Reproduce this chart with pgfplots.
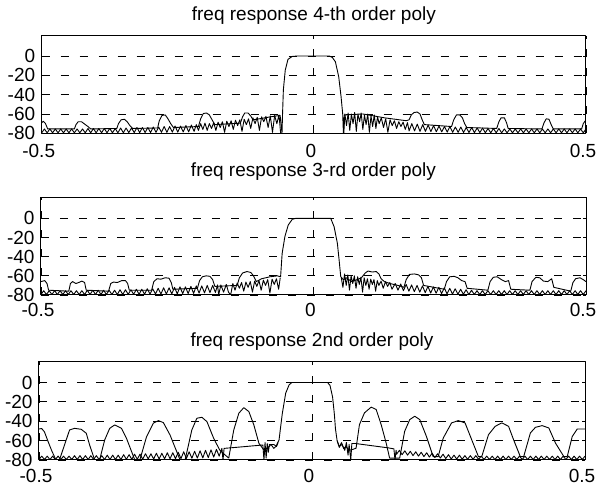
\documentclass[border=0pt]{standalone}
\usepackage{fontspec}
\setmainfont{Liberation Sans}
\usepackage{pgfplots}
\pgfplotsset{compat=1.18}
\pgfplotsset{
  panel/.style={
    scale only axis, anchor=south west,
    xmin=-0.5, xmax=0.5, ymin=-80,
    xtick={-0.5,0,0.5}, xticklabels={-0.5,0,0.5},
    ytick={-80,-60,-40,-20,0},
    /pgf/number format/assume math mode=true,
    tick label style={font=\fontsize{19}{21}\selectfont},
    title style={font=\fontsize{19}{21}\selectfont, at={(0.5,1)}, anchor=base},
    xticklabel style={xshift=-3pt},
    yticklabel style={xshift=-3pt},
    tick align=inside, major tick length=3pt,
    axis line style={black, line width=1pt},
    every tick/.style={black, line width=0.8pt},
    xmajorgrids, ymajorgrids,
    major grid style={black, line width=0.9pt, dash pattern=on 8pt off 11pt},
    line join=round,
  },
  crv/.style={black, line width=0.9pt, line join=round},
}
\begin{document}
\begin{tikzpicture}
\path[use as bounding box] (0,0) rectangle (598pt,-489pt);

% ---------------- panel 1 ----------------
\begin{axis}[panel, at={(41.7pt,-133.3pt)}, width=544.3pt, height=97.6pt, ymax=21,
  title={freq response 4-th order poly}, title style={yshift=9pt},
  xticklabel style={yshift=-7pt}]
% floor left
\addplot[crv] coordinates {
(-0.500,-79.5)(-0.495,-75.5)(-0.490,-79.5)(-0.485,-75.5)(-0.480,-79.5)(-0.475,-75.5)(-0.470,-79.5)(-0.465,-75.5)(-0.460,-79.5)(-0.455,-75.5)
(-0.450,-79.5)(-0.445,-75.5)(-0.440,-79.5)(-0.435,-75.5)(-0.430,-79.5)(-0.425,-75.5)(-0.420,-79.5)(-0.415,-75)(-0.410,-79.5)(-0.405,-75)
(-0.400,-79.5)(-0.395,-75)(-0.390,-79.5)(-0.385,-75)(-0.380,-79.5)(-0.375,-75)(-0.370,-79.5)(-0.365,-75)(-0.360,-79.5)(-0.355,-74.5)
(-0.350,-79.5)(-0.345,-74.5)(-0.340,-79.3)(-0.335,-74.5)(-0.330,-79.3)(-0.325,-74)(-0.320,-79.3)(-0.315,-74)(-0.310,-79.2)(-0.305,-74)
(-0.300,-79.2)(-0.295,-73.5)(-0.290,-79)(-0.285,-73.5)(-0.280,-79)(-0.275,-73)(-0.270,-79)(-0.265,-73)(-0.260,-78.8)(-0.255,-72.5)
(-0.250,-78.8)(-0.245,-72.5)(-0.240,-78.6)(-0.235,-72)(-0.230,-78.5)(-0.225,-71.5)
(-0.220,-78)(-0.216,-71)(-0.212,-77)(-0.208,-70)(-0.204,-76)(-0.200,-69.5)(-0.196,-77)(-0.192,-70)(-0.188,-75)(-0.184,-69)
(-0.180,-77)(-0.176,-68.5)(-0.172,-74)(-0.168,-68)(-0.164,-79)(-0.160,-67.5)(-0.156,-73)(-0.152,-67)(-0.148,-76)(-0.144,-66.5)
(-0.140,-72)(-0.136,-66)(-0.132,-78)(-0.128,-65.5)(-0.124,-71)(-0.120,-65)(-0.116,-75)(-0.112,-64)(-0.108,-70)(-0.104,-63.5)
(-0.100,-77)(-0.096,-63)(-0.092,-68)(-0.088,-62.5)(-0.084,-74)(-0.080,-62)(-0.076,-79)(-0.072,-61.5)(-0.068,-70)(-0.064,-61)(-0.061,-80)
};
% floor right
\addplot[crv] coordinates {
(0.055,-80)(0.057,-60)(0.060,-72)(0.063,-59)(0.066,-77)(0.069,-60)(0.072,-70)(0.075,-58.5)(0.078,-78)(0.081,-60)
(0.084,-68)(0.087,-59)(0.090,-76)(0.093,-61)(0.096,-71)(0.099,-60)(0.102,-79)(0.105,-62)(0.108,-73)(0.111,-61)
(0.114,-75)(0.117,-63)(0.120,-70)(0.124,-64)(0.128,-74)(0.132,-65)(0.136,-79)(0.140,-66)(0.144,-72)(0.148,-67)
(0.152,-75)(0.156,-68)(0.160,-73)(0.164,-68.5)(0.168,-76)(0.172,-69)
(0.175,-77.5)(0.180,-70)(0.185,-77.5)(0.190,-70.5)(0.195,-78)(0.200,-71)(0.205,-78)(0.210,-71.5)(0.215,-78.2)(0.220,-72)
(0.225,-78.4)(0.230,-72.5)(0.235,-78.6)(0.240,-73)(0.245,-78.8)(0.250,-73)(0.255,-79)(0.260,-73.5)(0.265,-79)(0.270,-73.5)
(0.275,-79.2)(0.280,-74)(0.285,-79.2)(0.290,-74)(0.295,-79.3)(0.300,-74.5)(0.305,-79.3)(0.310,-74.5)(0.315,-79.5)(0.320,-75)
(0.325,-79.5)(0.330,-75)(0.335,-79.5)(0.340,-75)(0.345,-79.5)(0.350,-75.5)(0.355,-79.5)(0.360,-75.5)(0.365,-79.5)(0.370,-75.5)
(0.375,-79.5)(0.380,-75.5)(0.385,-79.5)(0.390,-75.5)(0.395,-79.5)(0.400,-75.5)(0.405,-79.5)(0.410,-75.5)(0.415,-79.5)(0.420,-75.5)
(0.425,-79.5)(0.430,-75.5)(0.435,-79.5)(0.440,-75.5)(0.445,-79.5)(0.450,-75.5)(0.455,-79.5)(0.460,-75.5)(0.465,-79.5)(0.470,-75.5)
(0.475,-79.5)(0.480,-75.5)(0.485,-79.5)(0.490,-75.5)(0.495,-79.5)(0.500,-75.5)
};
% main response
\addplot[crv] coordinates {
(-0.5,-69)(-0.497,-67.5)(-0.493,-70)(-0.489,-75.5)(-0.44,-75.5)(-0.437,-71)(-0.433,-68)(-0.427,-68)(-0.421,-70.5)(-0.415,-73)(-0.41,-75.5)
(-0.362,-75)(-0.359,-70)(-0.354,-66)(-0.348,-65.5)(-0.343,-68)(-0.338,-72)(-0.333,-75)
(-0.287,-74.5)(-0.284,-67)(-0.279,-61.5)(-0.273,-61)(-0.268,-65)(-0.263,-70)(-0.258,-74)
(-0.212,-73)(-0.208,-65)(-0.203,-59.5)(-0.197,-59)(-0.192,-61)(-0.187,-66)(-0.182,-71)
(-0.135,-69.5)(-0.131,-63)(-0.127,-59)(-0.121,-59)(-0.116,-62)(-0.112,-66)(-0.1,-65)(-0.08,-63)(-0.062,-61.5)
(-0.0585,-80)(-0.0575,-60)(-0.056,-35)(-0.0525,-14.5)(-0.0475,-3.5)(-0.04,-0.5)(-0.03,0)
(0.0285,0)(0.034,-1.5)(0.0396,-6)(0.0457,-21.5)(0.05,-42)(0.053,-60)(0.0543,-80)(0.056,-61)(0.09,-60)(0.13,-64)(0.17,-67)
(0.175,-66)(0.179,-61)(0.184,-58.5)(0.19,-58)(0.195,-60)(0.199,-66)(0.203,-71)
(0.253,-73)(0.257,-66)(0.262,-61)(0.268,-61)(0.273,-64)(0.277,-70)(0.281,-74)
(0.336,-75)(0.34,-68)(0.344,-64)(0.35,-64)(0.354,-69)(0.357,-75)
(0.419,-75.5)(0.423,-69)(0.427,-65)(0.432,-65.5)(0.436,-71)(0.44,-75.5)
(0.492,-75.5)(0.495,-70)(0.5,-66)
};
\end{axis}

% ---------------- panel 2 ----------------
\begin{axis}[panel, at={(41pt,-295pt)}, width=545pt, height=97.7pt, ymax=22,
  title={freq response 3-rd order poly}, title style={yshift=15pt},
  xticklabel style={yshift=-5pt}]
\addplot[crv] coordinates {
(-0.500,-79.5)(-0.495,-75.5)(-0.490,-79.5)(-0.485,-75.5)(-0.480,-79.5)(-0.475,-75.5)(-0.470,-79.5)(-0.465,-75.5)(-0.460,-79.5)(-0.455,-75.5)
(-0.450,-79.5)(-0.445,-75.5)(-0.440,-79.5)(-0.435,-75.5)(-0.430,-79.5)(-0.425,-75.5)(-0.420,-79.5)(-0.415,-75)(-0.410,-79.5)(-0.405,-75)
(-0.400,-79.5)(-0.395,-75)(-0.390,-79.5)(-0.385,-75)(-0.380,-79.5)(-0.375,-75)(-0.370,-79.5)(-0.365,-75)(-0.360,-79.5)(-0.355,-74.5)
(-0.350,-79.5)(-0.345,-74.5)(-0.340,-79.3)(-0.335,-74.5)(-0.330,-79.3)(-0.325,-74)(-0.320,-79.3)(-0.315,-74)(-0.310,-79.2)(-0.305,-73.5)
(-0.300,-79.2)(-0.295,-73.5)(-0.290,-79)(-0.285,-73)(-0.280,-79)(-0.275,-72.5)(-0.270,-79)(-0.265,-72.5)(-0.260,-78.8)(-0.255,-72)
(-0.250,-78.8)(-0.245,-71.5)(-0.240,-78.6)(-0.235,-71.5)(-0.230,-78.5)(-0.225,-71)(-0.220,-78.3)(-0.215,-70.5)(-0.210,-78)(-0.205,-70.5)
(-0.200,-77.8)(-0.195,-70)(-0.190,-77.5)(-0.185,-70)(-0.180,-77.3)(-0.176,-69.5)(-0.174,-80)(-0.170,-69.5)(-0.165,-77)
(-0.160,-69)(-0.156,-77)(-0.152,-80)(-0.148,-68)(-0.144,-75)(-0.140,-67.5)(-0.136,-73)(-0.132,-67)(-0.128,-76)(-0.124,-66.5)
(-0.120,-72)(-0.116,-66)(-0.112,-77)(-0.108,-65.5)(-0.104,-71)(-0.100,-65)(-0.096,-75)(-0.092,-64.5)(-0.088,-70)(-0.084,-64)
(-0.080,-78)(-0.076,-63.5)(-0.072,-69)(-0.068,-63)(-0.064,-74)(-0.061,-62)
};
\addplot[crv] coordinates {
(0.051,-62)(0.054,-72)(0.057,-58)(0.060,-70)(0.063,-59)(0.066,-75)(0.069,-60)(0.072,-68)(0.075,-60)(0.078,-73)
(0.081,-61)(0.084,-69)(0.087,-61.5)(0.090,-77)(0.093,-62)(0.096,-70)(0.099,-63)(0.102,-74)(0.105,-63.5)(0.108,-69)
(0.111,-64)(0.114,-76)(0.117,-65)(0.120,-70)(0.124,-65.5)(0.128,-73)(0.132,-66)(0.136,-71)(0.140,-67)(0.144,-74)
(0.150,-68)(0.155,-75)(0.160,-68.5)(0.165,-75.5)(0.170,-69)(0.175,-76)(0.180,-69.5)(0.185,-76.5)(0.190,-70)(0.195,-77)
(0.200,-70.5)(0.205,-77.5)(0.210,-71)(0.215,-78)(0.220,-71.5)(0.225,-78.2)(0.230,-72)(0.235,-78.5)(0.240,-72.5)(0.245,-78.8)
(0.250,-73)(0.255,-79)(0.260,-73.5)(0.265,-79.2)(0.270,-74)(0.275,-79.3)(0.280,-74.5)(0.285,-79.5)(0.290,-75)(0.295,-79.5)
(0.300,-75.5)(0.305,-79.5)(0.310,-75.5)(0.315,-79.5)(0.320,-75.5)(0.325,-79.5)(0.330,-75.5)(0.335,-79.5)(0.340,-75.5)(0.345,-79.5)
(0.350,-75.5)(0.355,-79.5)(0.360,-75.5)(0.365,-79.5)(0.370,-75.5)(0.375,-79.5)(0.380,-75.5)(0.385,-79.5)(0.390,-75.5)(0.395,-79.5)
(0.400,-75.5)(0.405,-79.5)(0.410,-75.5)(0.415,-79.5)(0.420,-75.5)(0.425,-79.5)(0.430,-75.5)(0.435,-79.5)(0.440,-75.5)(0.445,-79.5)
(0.450,-75.5)(0.455,-79.5)(0.460,-75.5)(0.465,-79.5)(0.470,-75.5)(0.475,-79.5)(0.480,-75.5)(0.485,-79.5)(0.490,-75.5)(0.495,-79.5)(0.500,-75.5)
};
\addplot[crv] coordinates {
(-0.5,-66)(-0.493,-65)(-0.489,-68)(-0.486,-75)
(-0.449,-76)(-0.446,-68)(-0.442,-66)(-0.436,-68)(-0.431,-67)(-0.425,-65.5)(-0.42,-67)(-0.417,-75)
(-0.376,-76)(-0.372,-68)(-0.367,-66.5)(-0.36,-67)(-0.352,-65)(-0.345,-65)(-0.341,-68)(-0.338,-75)
(-0.297,-75)(-0.293,-66)(-0.287,-63)(-0.28,-63.5)(-0.272,-62)(-0.265,-62.5)(-0.261,-67)(-0.258,-74)
(-0.213,-73)(-0.209,-65)(-0.204,-61)(-0.197,-60)(-0.19,-60.5)(-0.185,-64)(-0.181,-71)
(-0.14,-70)(-0.136,-62)(-0.13,-57)(-0.122,-55.5)(-0.115,-56.5)(-0.11,-60)(-0.105,-66)
(-0.095,-63)(-0.08,-61)(-0.066,-60)
(-0.0604,-61)(-0.0575,-36.5)(-0.0525,-19)(-0.0464,-7)(-0.039,-1)(-0.0328,0)
(0.0316,0)(0.0378,-8.7)(0.0438,-26)(0.047,-43.5)(0.05,-61)
(0.055,-64)(0.06,-62)(0.07,-66)(0.08,-64)(0.088,-62)
(0.095,-57)(0.1,-55)(0.108,-56)(0.115,-55.5)(0.12,-58)(0.124,-63)(0.13,-66)(0.14,-68)(0.155,-70)
(0.166,-72)(0.17,-64)(0.176,-58.5)(0.185,-58)(0.193,-59)(0.198,-62)(0.202,-70)
(0.24,-74)(0.244,-66)(0.25,-61)(0.258,-60.5)(0.265,-62)(0.272,-65)(0.278,-66)(0.282,-73)
(0.32,-75)(0.324,-66)(0.33,-61.5)(0.337,-61)(0.345,-64)(0.352,-66)(0.358,-65)(0.362,-74)
(0.397,-75)(0.401,-66)(0.408,-61.5)(0.415,-62)(0.422,-65.5)(0.43,-66)(0.437,-63)(0.441,-72)
(0.472,-76)(0.476,-67)(0.481,-63)(0.489,-62)(0.495,-64)(0.5,-66)
};
\end{axis}

% ---------------- panel 3 ----------------
\begin{axis}[panel, at={(39pt,-460pt)}, width=546pt, height=98.3pt, ymax=21.5,
  title={freq response 2nd order poly}, title style={yshift=9pt},
  xticklabel style={yshift=-5.5pt}]
\addplot[crv] coordinates {
(-0.500,-79.5)(-0.495,-76)(-0.490,-79.5)(-0.485,-76)(-0.480,-79.5)(-0.475,-76)(-0.470,-79.5)(-0.465,-76)(-0.460,-79.5)(-0.455,-76)
(-0.450,-79.5)(-0.445,-76)(-0.440,-79.5)(-0.435,-75.5)(-0.430,-79.5)(-0.425,-75.5)(-0.420,-79.5)(-0.415,-75.5)(-0.410,-79.5)(-0.405,-75.5)
(-0.400,-79.5)(-0.395,-75.5)(-0.390,-79.5)(-0.385,-75.5)(-0.380,-79.5)(-0.375,-75)(-0.370,-79.5)(-0.365,-75)(-0.360,-79.5)(-0.355,-75)
(-0.350,-79.5)(-0.345,-74.5)(-0.340,-79.3)(-0.335,-74.5)(-0.330,-79.3)(-0.325,-74)(-0.320,-79.2)(-0.315,-74)(-0.310,-79.2)(-0.305,-73.5)
(-0.300,-79)(-0.295,-73.5)(-0.290,-79)(-0.285,-73)(-0.280,-79)(-0.275,-73)(-0.270,-78.8)(-0.265,-72.5)(-0.260,-78.8)(-0.255,-72.5)
(-0.250,-78.6)(-0.245,-72)(-0.240,-78.6)(-0.235,-71.5)(-0.230,-78.4)(-0.225,-71.5)(-0.220,-78.2)(-0.215,-71)(-0.210,-78)(-0.205,-70.5)
(-0.200,-77.8)(-0.195,-70)(-0.190,-77.5)(-0.185,-69.5)(-0.180,-77)(-0.175,-69)(-0.170,-76)(-0.165,-68)
(-0.163,-80)(-0.161,-68)(-0.14,-67)(-0.12,-66)(-0.10,-65)(-0.09,-64.5)(-0.088,-80)(-0.086,-62)(-0.084,-78)(-0.082,-63)
(-0.080,-72)(-0.078,-64)(-0.07,-64)(-0.065,-66)(-0.062,-62)
};
\addplot[crv] coordinates {
(0.046,-60)(0.05,-66)(0.055,-64)(0.06,-70)(0.063,-62)(0.066,-75)(0.068,-64)(0.071,-80)(0.073,-63)(0.08,-63)
(0.10,-64.5)(0.12,-66)(0.14,-67.5)(0.150,-68.5)(0.152,-80)(0.154,-70)
(0.155,-74)(0.160,-70)(0.165,-74.5)(0.170,-70.5)(0.175,-75)(0.180,-71)(0.185,-75.5)(0.190,-71.5)(0.195,-76)(0.200,-72)
(0.205,-76.5)(0.210,-72.5)(0.215,-77)(0.220,-73)(0.225,-77.5)(0.230,-73.5)(0.235,-78)(0.240,-74)(0.245,-78.5)(0.250,-74.5)
(0.255,-79)(0.260,-75)(0.265,-79)(0.270,-75)(0.275,-79.2)(0.280,-75.5)(0.285,-79.2)(0.290,-75.5)(0.295,-79.3)(0.300,-75.5)
(0.305,-79.3)(0.310,-76)(0.315,-79.5)(0.320,-76)(0.325,-79.5)(0.330,-76)(0.335,-79.5)(0.340,-76)(0.345,-79.5)(0.350,-76)
(0.355,-79.5)(0.360,-76)(0.365,-79.5)(0.370,-76)(0.375,-79.5)(0.380,-76)(0.385,-79.5)(0.390,-76)(0.395,-79.5)(0.400,-76)
(0.405,-79.5)(0.410,-76)(0.415,-79.5)(0.420,-76)(0.425,-79.5)(0.430,-76)(0.435,-79.5)(0.440,-76)(0.445,-79.5)(0.450,-76)
(0.455,-79.5)(0.460,-76)(0.465,-79.5)(0.470,-76)(0.475,-79.5)(0.480,-76)(0.485,-79.5)(0.490,-76)(0.495,-79.5)(0.500,-76)
};
\addplot[crv] coordinates {
(-0.5,-48)(-0.495,-47.5)(-0.490,-51)(-0.484,-60)(-0.477,-70)(-0.469,-80)
(-0.4626,-80)(-0.4533,-64.5)(-0.444,-49)(-0.435,-47.3)(-0.4227,-48.3)(-0.4134,-52.4)(-0.4073,-64.5)(-0.398,-80)
(-0.389,-80)(-0.3797,-59.3)(-0.3705,-47.3)(-0.3613,-43.8)(-0.349,-47.3)(-0.3398,-57.6)(-0.3245,-80)
(-0.3153,-80)(-0.303,-55.9)(-0.2906,-42)(-0.2814,-39.3)(-0.2722,-41.4)(-0.26,-54.2)(-0.2416,-80)
(-0.2324,-80)(-0.2201,-49)(-0.2109,-36.9)(-0.2017,-35.9)(-0.1924,-40.4)(-0.1801,-57.6)(-0.169,-69.7)(-0.165,-72)(-0.1525,-78)
(-0.1433,-49)(-0.134,-31.7)(-0.1249,-25.9)(-0.1157,-30)(-0.1065,-43.8)(-0.0972,-62.8)(-0.088,-69.7)(-0.08,-67)(-0.075,-64)(-0.07,-68)(-0.066,-66)
(-0.0604,-59.3)(-0.0543,-31.7)(-0.0482,-11)(-0.042,-2.5)(-0.037,0)
(0.0285,0)(0.033,-3)(0.0377,-15)(0.041,-33)(0.043,-48)(0.046,-60)(0.05,-67)(0.054,-62)(0.058,-68)(0.062,-66)(0.068,-70)(0.075,-69)(0.0807,-67.8)
(0.0869,-43.5)(0.0961,-31.3)(0.1083,-25.4)(0.1175,-27.8)(0.1267,-43.5)(0.1359,-62.6)(0.1421,-78)
(0.1606,-78)(0.1697,-50.4)(0.179,-38.3)(0.1882,-34.8)(0.1974,-38.3)(0.2096,-55.7)(0.2219,-76.5)
(0.2311,-76.5)(0.2403,-57.4)(0.2556,-41.7)(0.268,-39.3)(0.2803,-41.7)(0.2925,-59.1)(0.3048,-76.5)
(0.3109,-76.5)(0.3232,-53.9)(0.3355,-45.2)(0.3477,-41.7)(0.36,-45.2)(0.3692,-59.1)(0.3815,-76.5)
(0.3877,-76.5)(0.4,-52)(0.4092,-46.3)(0.4214,-44.5)(0.4337,-46.9)(0.446,-62.6)(0.4613,-76.5)
(0.4674,-76.5)(0.4766,-55.7)(0.4858,-48)(0.495,-48)(0.5,-48)
};
\end{axis}
\end{tikzpicture}
\end{document}
